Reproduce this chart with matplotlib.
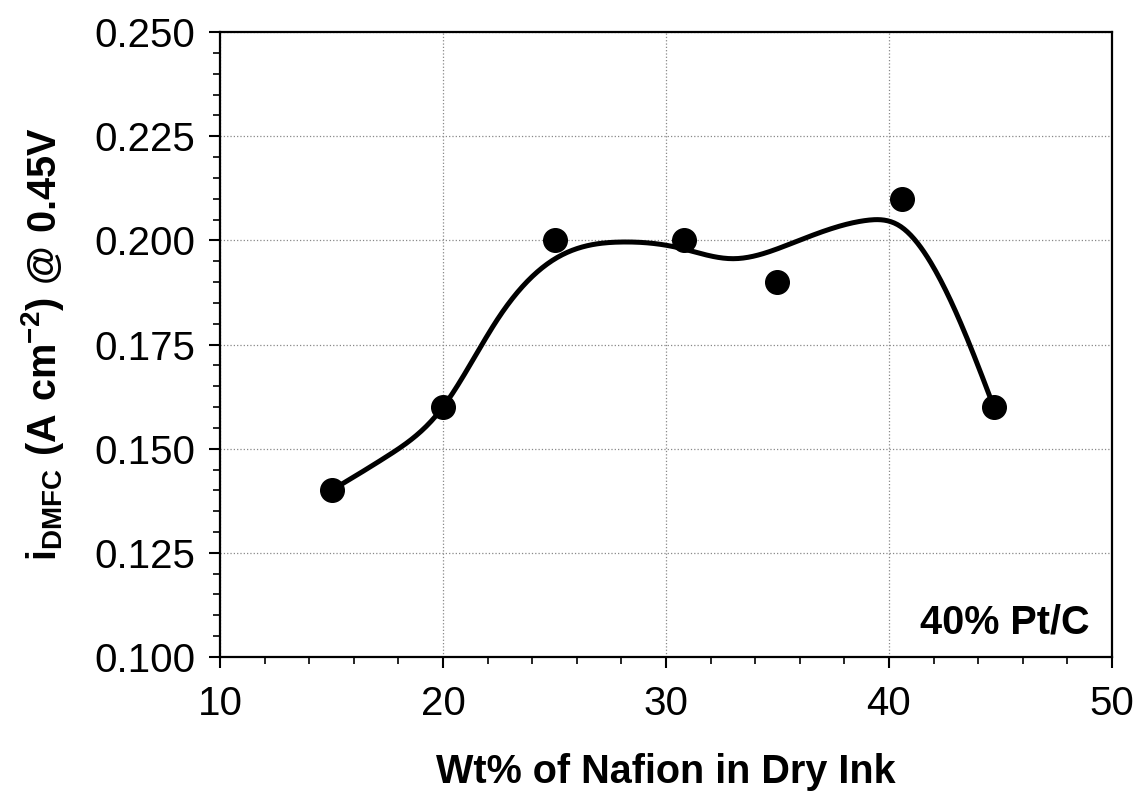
import numpy as np
import matplotlib.pyplot as plt
from matplotlib.ticker import MultipleLocator, FormatStrFormatter

plt.rcParams['font.family'] = ['Liberation Sans', 'DejaVu Sans']
plt.rcParams['mathtext.fontset'] = 'custom'
plt.rcParams['mathtext.rm'] = 'Liberation Sans'
plt.rcParams['mathtext.bf'] = 'Liberation Sans:bold'

# medidas
nafion_wt = [15.0, 20.0, 25.0, 30.8, 35.0, 40.6, 44.7]
i_dmfc = [0.140, 0.160, 0.200, 0.200, 0.190, 0.210, 0.160]

# linea de tendencia (trazada a mano)
trend_x = [15.0, 17.5, 20.0, 22.5, 25.0, 28.0, 30.5, 33.0, 35.5, 39.0, 40.5, 42.0, 43.4, 44.7]
trend_y = [0.140, 0.1482, 0.160, 0.1815, 0.1955, 0.1996, 0.1983, 0.1956, 0.1990, 0.2048, 0.2034, 0.1935, 0.1778, 0.160]

x_ticks = [10, 20, 30, 40, 50]
y_ticks = [0.100, 0.125, 0.150, 0.175, 0.200, 0.225, 0.250]


def natural_spline(xs, ys, n=400):
    # spline cubica natural y(x)
    x = np.asarray(xs, float)
    y = np.asarray(ys, float)
    h = np.diff(x)
    m = len(x)
    A = np.zeros((m, m))
    b = np.zeros(m)
    A[0, 0] = A[-1, -1] = 1.0
    for i in range(1, m - 1):
        A[i, i - 1] = h[i - 1]
        A[i, i] = 2 * (h[i - 1] + h[i])
        A[i, i + 1] = h[i]
        b[i] = 6 * ((y[i + 1] - y[i]) / h[i] - (y[i] - y[i - 1]) / h[i - 1])
    M = np.linalg.solve(A, b)
    xx = np.linspace(x[0], x[-1], n)
    k = np.clip(np.searchsorted(x, xx) - 1, 0, m - 2)
    t0 = x[k + 1] - xx
    t1 = xx - x[k]
    hk = h[k]
    yy = (M[k] * t0 ** 3 + M[k + 1] * t1 ** 3) / (6 * hk) \
        + (y[k] / hk - M[k] * hk / 6) * t0 + (y[k + 1] / hk - M[k + 1] * hk / 6) * t1
    return xx, yy


fig = plt.figure(figsize=(11.37, 7.95), dpi=100)
ax = fig.add_axes([0.1935, 0.1736, 0.7845, 0.7861])

cx, cy = natural_spline(trend_x, trend_y)
ax.plot(cx, cy, color='black', lw=3.6, zorder=3, solid_capstyle='round')
ax.plot(nafion_wt, i_dmfc, 'o', color='black', ms=17, zorder=4)

ax.set_xlim(10, 50)
ax.set_ylim(0.100, 0.250)
ax.set_xticks(x_ticks)
ax.set_yticks(y_ticks)
ax.xaxis.set_minor_locator(MultipleLocator(2))
ax.yaxis.set_minor_locator(MultipleLocator(0.005))
ax.yaxis.set_major_formatter(FormatStrFormatter('%.3f'))

ax.tick_params(which='major', direction='out', length=8, width=1.5, labelsize=29, pad=10)
ax.tick_params(which='minor', direction='out', length=5, width=1.2)
ax.tick_params(axis='x', which='major', pad=12)
ax.grid(True, which='major', color='#888888', ls=':', lw=0.9)
for s in ax.spines.values():
    s.set_linewidth(1.6)

ax.set_xlabel('Wt% of Nafion in Dry Ink', fontsize=28.5, fontweight='bold', labelpad=22)
ax.set_ylabel(r'$\mathbf{i_{DMFC}\ (A\ cm^{-2})\ @\ 0.45V}$', fontsize=28.5, labelpad=20)

ax.text(0.975, 0.038, '40% Pt/C', transform=ax.transAxes, ha='right', va='baseline',
        fontsize=28.5, fontweight='bold')

fig.savefig('out.png', dpi=100)
